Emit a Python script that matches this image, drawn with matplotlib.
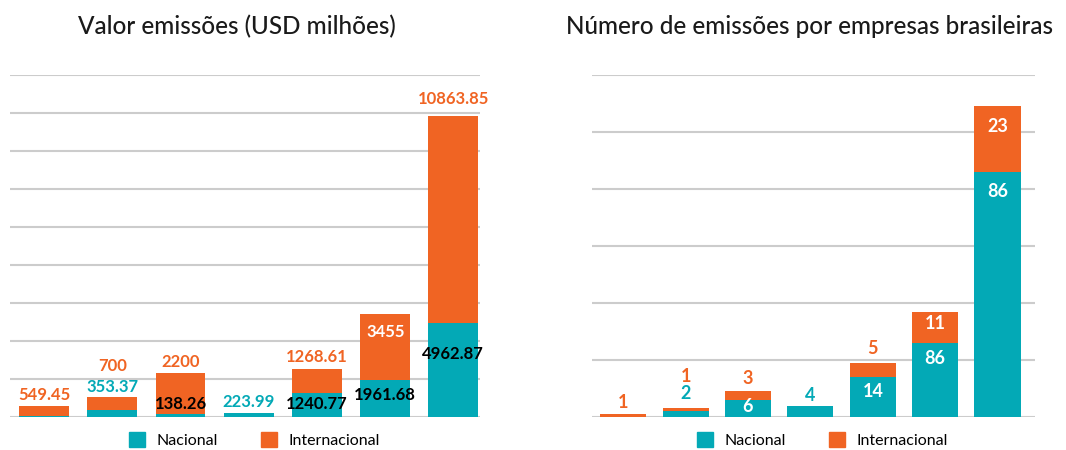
import matplotlib.pyplot as plt
from matplotlib.patches import Patch

plt.rcParams['font.family'] = ['Lato', 'DejaVu Sans']

TEAL = "#03a9b6"
ORANGE = "#f06423"
GRID = "#cccccc"

# Valor emissões (USD milhões)
valor_nacional = [45, 353.37, 138.26, 223.99, 1240.77, 1961.68, 4962.87]
valor_internacional = [549.45, 700, 2200, 0, 1268.61, 3455, 10863.85]
valor_nac_labels = ["", "353.37", "138.26", "223.99", "1240.77", "1961.68", "4962.87"]
valor_int_labels = ["549.45", "700", "2200", "", "1268.61", "3455", "10863.85"]

# Número de emissões por empresas brasileiras
num_nacional = [0, 2, 6, 4, 14, 26, 86]
num_internacional = [1, 1, 3, 0, 5, 11, 23]
num_nac_labels = ["", "2", "6", "4", "14", "86", "86"]
num_int_labels = ["1", "1", "3", "", "5", "11", "23"]

# label placement (pixel offsets from the segment top) and colours
valor_nac_style = [(0, None), (23, TEAL), (10, "black"), (11, TEAL),
                   (-11, "black"), (-15, "black"), (-31, "black")]
valor_int_style = [(11, ORANGE), (31, ORANGE), (11, ORANGE), (0, None),
                   (12, ORANGE), (-18, "white"), (17, ORANGE)]
num_nac_style = [(0, None), (18, TEAL), (-7, "white"), (10, TEAL),
                 (-14, "white"), (-16, "white"), (-20, "white")]
num_int_style = [(12, ORANGE), (32, ORANGE), (13, ORANGE), (0, None),
                 (14, ORANGE), (-12, "white"), (-20, "white")]

fig = plt.figure(figsize=(10.66, 4.5), dpi=100)
ax1 = fig.add_axes([10 / 1066, 33 / 450, 470 / 1066, 342 / 450])
ax2 = fig.add_axes([592 / 1066, 33 / 450, 443 / 1066, 342 / 450])


def draw(ax, nac, intl, nac_lab, int_lab, nac_sty, int_sty, ymax, step, width, xmax, fs):
    x = list(range(len(nac)))
    tops = [a + b for a, b in zip(nac, intl)]
    ax.bar(x, nac, width=width, color=TEAL, zorder=3)
    ax.bar(x, intl, bottom=nac, width=width, color=ORANGE, zorder=3)
    for v in range(0, ymax + 1, step):
        ax.axhline(v, color=GRID, lw=1.5, zorder=1)
    for i in x:
        if nac_lab[i]:
            dy, c = nac_sty[i]
            ax.annotate(nac_lab[i], (i, nac[i]), xytext=(0, dy), textcoords="offset pixels",
                        ha="center", va="center", color=c, fontsize=fs, fontweight="bold", zorder=4)
        if int_lab[i]:
            dy, c = int_sty[i]
            ax.annotate(int_lab[i], (i, tops[i]), xytext=(0, dy), textcoords="offset pixels",
                        ha="center", va="center", color=c, fontsize=fs, fontweight="bold", zorder=4)
    ax.set_ylim(0, ymax)
    ax.set_xlim(-0.5, xmax)
    ax.axis("off")
    handles = [Patch(color=TEAL, label="Nacional"), Patch(color=ORANGE, label="Internacional")]
    ax.legend(handles=handles, loc="center", bbox_to_anchor=(0.52, -0.068), ncol=2,
              frameon=False, fontsize=11.5, handlelength=1.0, handleheight=1.0,
              columnspacing=2.7, handletextpad=0.7, borderpad=0.2)


draw(ax1, valor_nacional, valor_internacional, valor_nac_labels, valor_int_labels,
     valor_nac_style, valor_int_style, 18000, 2000, 0.73, 6.39, 12)
draw(ax2, num_nacional, num_internacional, num_nac_labels, num_int_labels,
     num_nac_style, num_int_style, 120, 20, 0.74, 6.6, 13)

fig.text(237 / 1066, 1 - 27 / 450, "Valor emissões (USD milhões)", ha="center", va="center",
         fontsize=17.5, color="#1a1a1a", fontweight="medium")
fig.text(810 / 1066, 1 - 27 / 450, "Número de emissões por empresas brasileiras", ha="center",
         va="center", fontsize=17.5, color="#1a1a1a", fontweight="medium")

fig.savefig("out.png", dpi=100)
